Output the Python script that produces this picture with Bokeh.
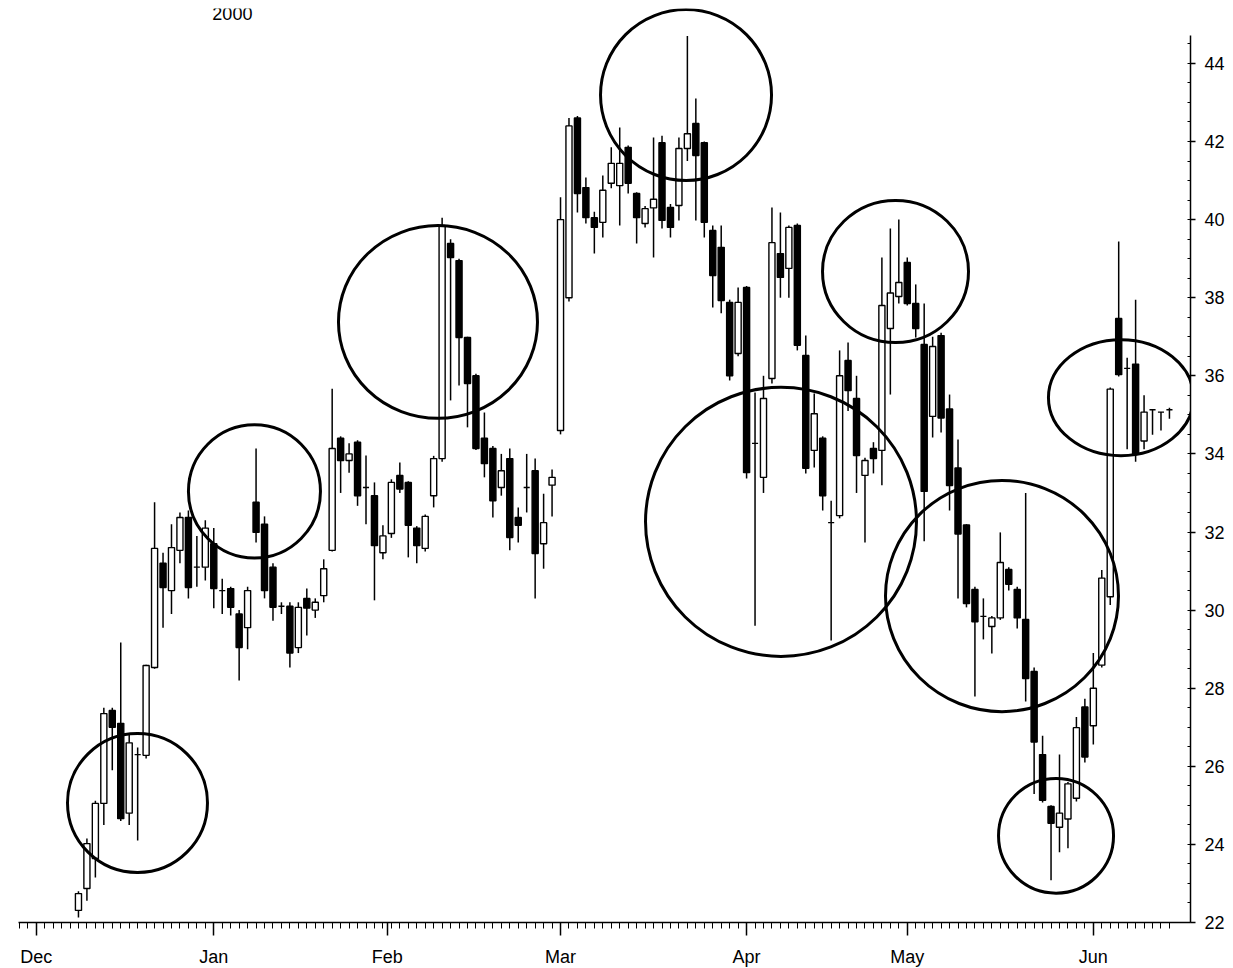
from bokeh.plotting import figure
from bokeh.models import FixedTicker, Range1d
from bokeh.embed import file_html
from bokeh.resources import INLINE
from bokeh.core.properties import value

# ---- data: daily OHLC, trading-day index starting at first_day ----
first_day = 5
opens = [22.31, 22.87, 23.64, 25.05, 27.43, 27.10, 24.80, 26.30, 26.28, 28.53,
         31.20, 30.50, 31.53, 32.37, 31.10, 31.10, 31.70, 30.50, 30.55, 29.90,
         29.55, 32.76, 32.20, 31.10, 30.10, 30.10, 29.04, 30.30, 30.00, 30.37,
         31.53, 34.40, 33.83, 34.30, 33.14, 32.93, 31.47, 31.96, 33.45, 33.27,
         32.10, 31.58, 32.93, 33.88, 39.39, 38.95, 36.98, 36.00, 34.40, 34.14,
         33.14, 33.88, 32.37, 33.14, 33.57, 31.70, 33.20,
         34.60, 38.00, 42.60, 40.82, 40.05, 39.93, 40.93, 40.87, 41.85, 40.67,
         39.90, 40.30, 41.97, 40.31, 40.36, 41.82, 42.46, 41.97, 39.72, 39.29,
         37.88, 36.57, 38.26, 34.27, 33.40, 35.93, 39.13, 38.75, 39.85, 36.52,
         34.09, 34.40, 32.24, 32.42, 36.39, 35.42, 33.45, 34.14, 34.09, 37.21,
         38.03, 38.90, 37.85, 36.80, 34.96, 37.03, 35.15, 33.64, 32.18, 30.53,
         29.84, 29.58, 29.80, 31.04, 30.53, 29.76, 28.43, 26.30, 24.97, 24.44,
         24.65, 25.18, 27.52, 27.04, 28.59, 30.34, 37.47, 36.19, 36.30, 34.33,
         35.13, 35.07, 35.13]
highs = [22.80, 24.15, 25.12, 27.50, 27.50, 29.17, 26.84, 26.48, 28.60, 32.76,
         31.47, 32.20, 32.50, 32.55, 31.90, 32.30, 32.10, 30.80, 30.60, 30.00,
         30.60, 34.14, 32.40, 31.20, 30.20, 30.20, 30.20, 30.55, 30.30, 31.30,
         35.67, 34.45, 34.27, 34.35, 33.96, 33.27, 32.17, 33.35, 33.78, 33.30,
         32.15, 32.45, 33.95, 40.05, 39.50, 39.00, 37.00, 36.05, 35.06, 34.20,
         34.00, 34.14, 32.63, 34.00, 33.88, 32.98, 33.60,
         40.57, 42.60, 42.65, 41.08, 40.20, 41.13, 41.85, 42.36, 41.90, 40.70,
         40.35, 42.10, 42.15, 40.40, 42.10, 44.70, 43.10, 42.00, 39.85, 39.85,
         37.95, 38.26, 38.30, 35.57, 36.00, 40.31, 40.18, 39.85, 39.90, 37.03,
         35.55, 34.45, 32.80, 36.65, 36.85, 36.00, 33.90, 34.30, 39.03, 39.77,
         40.00, 39.03, 38.34, 37.85, 37.00, 37.10, 35.52, 34.37, 32.20, 30.60,
         30.30, 29.85, 31.99, 31.10, 30.60, 33.00, 28.53, 26.78, 25.00, 26.30,
         25.60, 27.26, 27.73, 28.90, 31.03, 35.70, 39.44, 36.46, 37.95, 35.50,
         35.13, 35.07, 35.18]
lows = [22.13, 22.56, 23.15, 24.50, 25.90, 24.60, 24.50, 24.10, 26.20, 28.50,
        29.55, 29.90, 31.20, 30.30, 30.60, 30.76, 30.05, 29.90, 29.86, 28.20,
        29.00, 31.73, 30.30, 29.73, 29.90, 28.53, 28.90, 29.35, 29.80, 30.20,
        31.50, 33.00, 33.52, 32.67, 32.20, 30.25, 31.30, 31.85, 33.00, 31.35,
        31.20, 31.50, 32.63, 33.80, 35.37, 35.75, 34.68, 34.10, 33.40, 32.37,
        32.93, 31.53, 31.73, 32.50, 30.30, 31.06, 32.40,
        34.50, 37.90, 40.18, 39.90, 39.13, 39.54, 40.80, 39.85, 40.67, 39.39,
        39.80, 39.03, 39.77, 39.54, 39.98, 41.50, 39.98, 39.54, 37.75, 37.60,
        35.88, 36.50, 33.37, 29.60, 33.00, 35.80, 38.00, 38.00, 36.65, 33.50,
        33.65, 32.55, 29.22, 32.35, 35.10, 33.00, 31.73, 33.50, 33.20, 35.52,
        37.85, 37.80, 36.98, 31.76, 34.42, 34.55, 32.55, 30.30, 30.07, 27.79,
        29.25, 28.89, 29.75, 30.50, 29.53, 27.66, 25.29, 25.07, 23.08, 23.80,
        23.90, 25.10, 26.10, 26.56, 28.53, 30.13, 35.98, 34.12, 33.80, 34.12,
        34.49, 34.60, 34.90]
closes = [22.74, 24.02, 25.05, 27.35, 27.00, 24.66, 26.60, 26.30, 28.58, 31.58,
          30.58, 31.60, 32.37, 30.58, 31.10, 32.10, 30.55, 30.50, 30.07, 29.04,
          30.50, 31.99, 30.50, 30.07, 30.10, 28.90, 30.07, 30.05, 30.20, 31.06,
          34.14, 33.83, 34.00, 32.93, 33.14, 31.65, 31.90, 33.27, 33.10, 32.17,
          31.65, 32.40, 33.88, 39.85, 39.03, 36.98, 35.80, 34.14, 33.75, 32.80,
          33.57, 31.86, 32.17, 33.14, 31.45, 32.24, 33.40,
          40.00, 42.40, 40.67, 40.05, 39.80, 40.75, 41.44, 41.44, 40.93, 40.05,
          40.28, 40.52, 39.98, 39.80, 41.82, 42.20, 41.64, 39.93, 38.57, 37.93,
          36.00, 37.88, 33.52, 34.27, 35.42, 39.41, 38.52, 39.80, 36.78, 33.63,
          35.03, 32.93, 32.24, 36.00, 35.62, 33.96, 33.83, 33.88, 37.80, 38.12,
          38.39, 37.85, 37.21, 33.04, 36.75, 34.92, 33.19, 31.95, 30.17, 29.70,
          29.84, 29.80, 31.22, 30.66, 29.80, 28.25, 26.62, 25.13, 24.54, 24.80,
          25.55, 26.99, 26.24, 28.00, 30.82, 35.66, 36.03, 36.19, 34.00, 35.07,
          35.13, 35.07, 35.13]

# month tick positions (trading-day index) and labels
month_start = [0, 21, 41.5, 62, 84, 103, 125]
month_labels = ["Dec", "Jan", "Feb", "Mar", "Apr", "May", "Jun"]
price_ticks = [22, 24, 26, 28, 30, 32, 34, 36, 38, 40, 42, 44]

# hand-drawn circle annotations (centre day, centre price, width in days, height in price)
circle_day = [11.98, 25.81, 47.51, 76.84, 88.07, 101.61, 114.2, 128.27, 120.59]
circle_price = [25.06, 33.04, 37.38, 43.19, 32.26, 38.67, 30.36, 35.44, 24.22]
circle_w = [16.55, 15.61, 23.53, 20.22, 32.04, 17.26, 27.55, 17.15, 13.6]
circle_h = [3.56, 3.41, 4.94, 4.38, 6.89, 3.64, 5.92, 2.97, 2.94]

year_label = "2000"
year_label_day = 23.2
year_label_price = 45.28

days = [first_day + k for k in range(len(opens))]
tops = [max(o, c) for o, c in zip(opens, closes)]
bottoms = [min(o, c) for o, c in zip(opens, closes)]
fills = ["white" if c >= o else "black" for o, c in zip(opens, closes)]

FONT = "Liberation Sans"

p = figure(frame_width=1172, frame_height=914,
           x_range=Range1d(-2.09, 136.49), y_range=Range1d(22, 45.406),
           y_axis_location="right", toolbar_location=None, output_backend="svg",
           min_border_left=18, min_border_top=8, min_border_bottom=0, min_border_right=0)

p.segment(x0=days, y0=lows, x1=days, y1=highs, line_color="black", line_width=1.5)
p.vbar(x=days, width=0.72, top=tops, bottom=bottoms, fill_color=fills,
       line_color="black", line_width=1.4)

p.ellipse(x=circle_day, y=circle_price, width=circle_w, height=circle_h,
          fill_color=None, line_color="black", line_width=3)

p.text(x=[year_label_day], y=[year_label_price], text=[year_label],
       text_align="center", text_baseline="middle",
       text_font=value(FONT), text_font_size="18px", text_color="black")

xa = p.xaxis[0]
xa.ticker = FixedTicker(ticks=month_start, minor_ticks=list(range(-2, 135)))
xa.major_label_overrides = {m: lab for m, lab in zip(month_start, month_labels)}
xa.major_tick_out = 13
xa.major_tick_in = 0
xa.minor_tick_out = 6
xa.minor_tick_in = 0
xa.axis_line_width = 1.5
xa.major_tick_line_width = 1.5
xa.minor_tick_line_width = 1
xa.major_label_standoff = 11
xa.major_label_text_font = FONT
xa.major_label_text_font_size = "18px"
xa.major_label_text_color = "black"
xa.axis_line_color = "black"

ya = p.yaxis[0]
ya.ticker = FixedTicker(ticks=price_ticks, minor_ticks=[22 + 0.5 * k for k in range(46)])
ya.bounds = (22, 44.72)
ya.major_tick_out = 5
ya.major_tick_in = 0
ya.minor_tick_out = 0
ya.minor_tick_in = 3
ya.axis_line_width = 1.5
ya.major_tick_line_width = 1.5
ya.minor_tick_line_width = 1
ya.major_label_standoff = 9
ya.major_label_text_font = FONT
ya.major_label_text_font_size = "18px"
ya.major_label_text_color = "black"

p.grid.visible = False
p.outline_line_color = None
p.background_fill_color = "white"
p.border_fill_color = "white"

open("out.html", "w").write(file_html(p, INLINE))
